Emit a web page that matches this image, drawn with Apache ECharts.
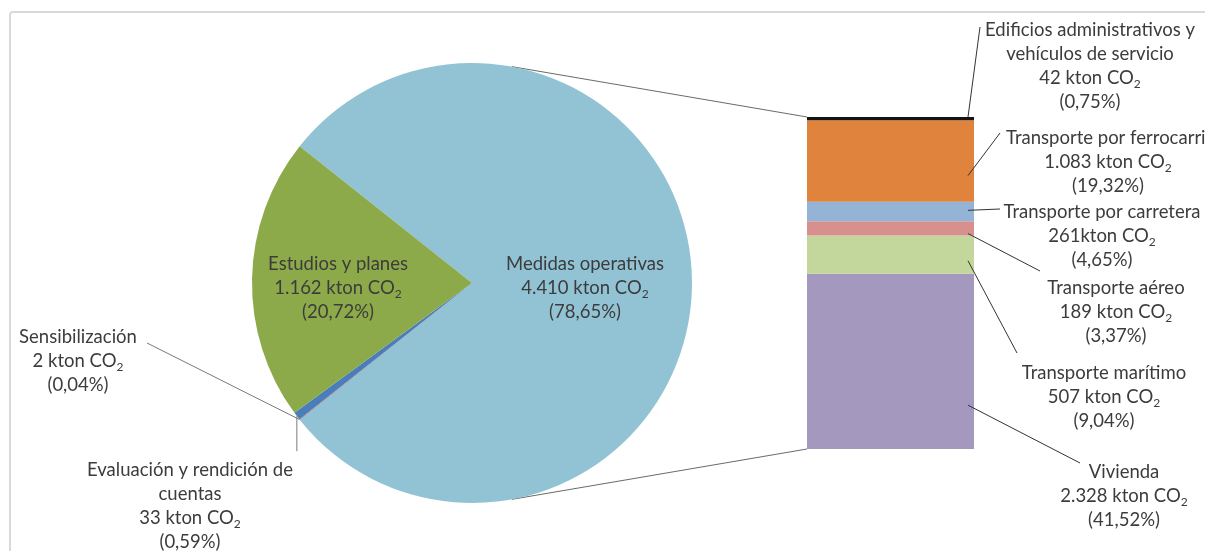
<!DOCTYPE html>
<html><head><meta charset="utf-8">
<script src="https://cdn.jsdelivr.net/npm/echarts@6/dist/echarts.min.js"></script>
<style>html,body{margin:0;padding:0;background:#fff}#c{width:1205px;height:551px}</style>
</head><body><div id="c"></div>
<script>
// ---- data ----
const pieNames = ['Medidas operativas', 'Sensibilización', 'Evaluación y rendición de\ncuentas', 'Estudios y planes'];
const pieValues = [4410, 2, 33, 1162];
const barNames = ['Edificios administrativos y\nvehículos de servicio', 'Transporte por ferrocarril', 'Transporte por carretera', 'Transporte aéreo', 'Transporte marítimo', 'Vivienda'];
const barValues = [42, 1083, 261, 189, 507, 2328];
const barUnitSep = [' ', ' ', '', ' ', ' ', ' '];
const unitText = 'kton CO';
const unitSub = '2';

// ---- styles ----
const pieColors = ['#92C3D5', '#C0504D', '#4A7EBB', '#8DAA4A'];
const barColors = ['#161412', '#E0833C', '#95B3D7', '#D8908F', '#C3D69B', '#A598BF'];
const TEXT = '#3c3c3c';
const FONT = 'Lato';
const FS = 18.5, LH = 24;

const total = pieValues.reduce((a, b) => a + b, 0);
const barTotal = barValues.reduce((a, b) => a + b, 0);

function fmtInt(v) { return String(v).replace(/\B(?=(\d{3})+(?!\d))/g, '.'); }
function fmtPct(v) { return (v / total * 100).toFixed(2).replace('.', ',') + '%'; }
function labelText(name, v, sep) {
  return '{t|' + name + '}\n{t|' + fmtInt(v) + sep + unitText + '}{s|' + unitSub + '}\n{t|(' + fmtPct(v) + ')}';
}
const rich = {
  t: { fontSize: FS, lineHeight: LH, color: TEXT, fontFamily: FONT },
  s: { fontSize: 12, lineHeight: 18, color: TEXT, fontFamily: FONT, verticalAlign: 'bottom' }
};

// ---- layout ----
const PIE_C = [472, 283], PIE_R = 220;
const GRID = { left: 807, top: 117, width: 167, height: 332 };
const pieLabelLayout = {
  0: { dx: 0, dy: 5 },
  3: { dx: -21, dy: 7 },
  1: { x: 78, y: 325, end: [147, 343] },
  2: { x: 190, y: 458, endDy: 35 }
};
const barLabelLayout = [
  { x: 1090, y: 18, end: [980, 27], frac: 0 },
  { x: 1108, y: 126, end: [1000, 133], frac: 0.68 },
  { x: 1102, y: 200, end: [1000, 209], frac: 0.44 },
  { x: 1116, y: 276, end: [1040, 271], frac: 0.86 },
  { x: 1104, y: 361, end: [1017, 353], frac: 0.66 },
  { x: 1124, y: 460, end: [1080, 463], frac: 0.75 }
];

const chart = echarts.init(document.getElementById('c'));

const pieData = pieNames.map((n, i) => {
  const inside = pieLabelLayout[i].x === undefined;
  return {
    name: n, value: pieValues[i],
    itemStyle: { color: pieColors[i] },
    label: { position: inside ? 'inside' : 'outside' },
    labelLine: { show: !inside }
  };
});

const barSeries = [];
for (let i = barNames.length - 1; i >= 0; i--) {
  const L = barLabelLayout[i];
  barSeries.push({
    type: 'bar', name: barNames[i], stack: 'bar', xAxisIndex: 0, yAxisIndex: 0,
    data: [barValues[i]], barWidth: '100%',
    itemStyle: { color: barColors[i] },
    emphasis: { disabled: true },
    label: {
      show: true, position: 'right',
      formatter: () => labelText(barNames[i], barValues[i], barUnitSep[i]),
      rich: rich
    },
    labelLayout: function () {
      return { x: L.x, y: L.y, align: 'center', verticalAlign: 'top' };
    }
  });
}

chart.setOption({
  animation: false,
  backgroundColor: '#fff',
  textStyle: { fontFamily: FONT },
  grid: [{ left: GRID.left, top: GRID.top, width: GRID.width, height: GRID.height }],
  xAxis: [{ type: 'category', data: [''], show: false }],
  yAxis: [{ type: 'value', min: 0, max: barTotal, show: false }],
  series: [{
    type: 'pie',
    center: PIE_C, radius: PIE_R,
    startAngle: 180 * pieValues[0] / total,
    clockwise: true,
    avoidLabelOverlap: false,
    minAngle: 0,
    data: pieData,
    label: {
      show: true,
      formatter: p => labelText(p.name, p.value, ' '),
      rich: rich
    },
    labelLine: { show: true, lineStyle: { color: '#7a7a7a', width: 1 } },
    emphasis: { disabled: true },
    labelLayout: function (p) {
      const L = pieLabelLayout[p.dataIndex];
      if (L.x === undefined) {
        const r = p.labelRect;
        return { x: r.x + r.width / 2 + L.dx, y: r.y + r.height / 2 + L.dy, align: 'center', verticalAlign: 'middle' };
      }
      const p0 = (p.labelLinePoints && p.labelLinePoints[0]) ? p.labelLinePoints[0] : PIE_C;
      const end = L.end ? L.end : [p0[0], p0[1] + L.endDy];
      return { x: L.x, y: L.y, align: 'center', verticalAlign: 'top', labelLinePoints: [p0, end] };
    }
  }].concat(barSeries)
});

// connector lines pie -> bar, bar leader lines, chart frame
const yTop = chart.convertToPixel({ yAxisIndex: 0 }, barTotal);
const yBot = chart.convertToPixel({ yAxisIndex: 0 }, 0);
const ang = 79.5 * Math.PI / 180;
const pTop = [PIE_C[0] + PIE_R * Math.cos(ang), PIE_C[1] - PIE_R * Math.sin(ang)];
const pBot = [PIE_C[0] + PIE_R * Math.cos(ang), PIE_C[1] + PIE_R * Math.sin(ang)];
const graphics = [
  { type: 'rect', shape: { x: 10, y: 12, width: 1400, height: 800, r: 3 }, style: { fill: 'none', stroke: '#d9d9d9', lineWidth: 2 }, silent: true, z: -1 },
  { type: 'line', shape: { x1: pTop[0], y1: pTop[1], x2: GRID.left, y2: yTop }, style: { stroke: '#6a6a6a', lineWidth: 1 }, silent: true },
  { type: 'line', shape: { x1: pBot[0], y1: pBot[1], x2: GRID.left, y2: yBot }, style: { stroke: '#6a6a6a', lineWidth: 1 }, silent: true }
];
let below = 0;
const segBelow = [];
for (let i = barValues.length - 1; i >= 0; i--) { segBelow[i] = below; below += barValues[i]; }
barValues.forEach((v, i) => {
  const L = barLabelLayout[i];
  const ySegTop = chart.convertToPixel({ yAxisIndex: 0 }, segBelow[i] + v);
  const ySegBot = chart.convertToPixel({ yAxisIndex: 0 }, segBelow[i]);
  const sx = GRID.left + GRID.width - 6;
  const sy = ySegTop + L.frac * (ySegBot - ySegTop);
  graphics.push({ type: 'line', shape: { x1: sx, y1: sy, x2: L.end[0], y2: L.end[1] }, style: { stroke: '#333', lineWidth: 1 }, silent: true, z: 10 });
});
chart.setOption({ graphic: graphics });
</script></body></html>
